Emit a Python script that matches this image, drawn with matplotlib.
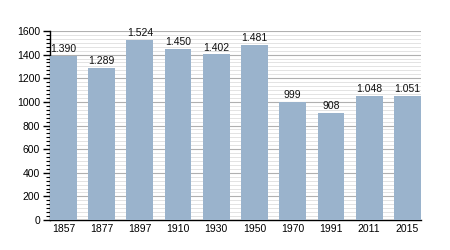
import matplotlib
matplotlib.use("Agg")
import matplotlib.pyplot as plt
from matplotlib.ticker import MultipleLocator, AutoMinorLocator

# population by census year
years = ["1857", "1877", "1897", "1910", "1930", "1950", "1970", "1991", "2011", "2015"]
population = [1390, 1289, 1524, 1450, 1402, 1481, 999, 908, 1048, 1051]

plt.rcParams['font.family'] = ['Liberation Sans', 'DejaVu Sans']

fig = plt.figure(figsize=(4.5, 2.5), dpi=100)
ax = fig.add_axes([0.111, 0.12, 0.824, 0.756])

x = range(len(years))
bars = ax.bar(x, population, width=0.7, color="#9ab3cc", zorder=3)

# labels above bars with dot as thousands separator
for xi, v in zip(x, population):
    ax.text(xi, v + 15, f"{v:,}".replace(",", "."), ha="center", va="bottom",
            fontsize=7.5, color="#111111", zorder=4)

ax.set_xlim(-0.35, len(years) - 0.65)
ax.set_ylim(0, 1600)
ax.set_xticks(list(x))
ax.set_xticklabels(years)
ax.yaxis.set_major_locator(MultipleLocator(200))
# 6 minor steps between major lines
ax.yaxis.set_minor_locator(AutoMinorLocator(6))

ax.grid(axis="y", which="major", color="#b0b0b0", linewidth=0.8, zorder=0)
ax.grid(axis="y", which="minor", color="#dedede", linewidth=0.6, zorder=0)

for s in ["top", "right"]:
    ax.spines[s].set_visible(False)
ax.spines["left"].set_linewidth(1.0)
ax.spines["bottom"].set_linewidth(1.0)

ax.tick_params(axis="x", length=0, labelsize=7.5, pad=3)
ax.tick_params(axis="y", which="major", length=5, width=1, labelsize=7.5, pad=2)
ax.tick_params(axis="y", which="minor", length=3, width=0.8)

fig.savefig("out.png", dpi=100)
